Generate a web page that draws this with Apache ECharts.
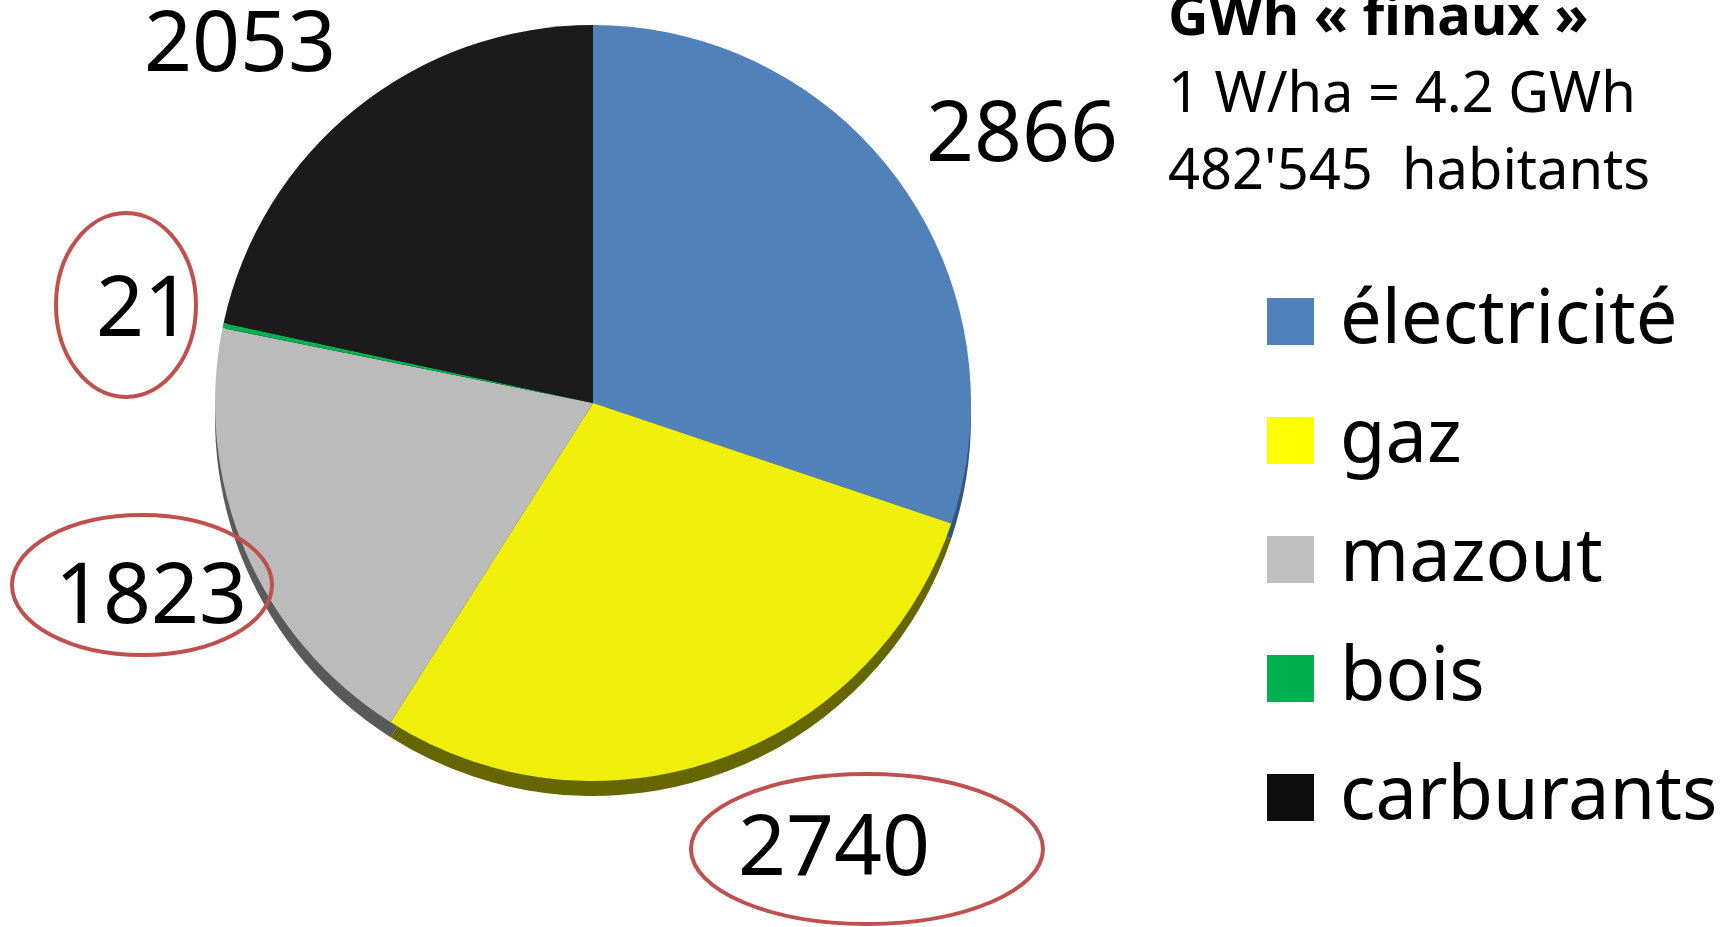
<!DOCTYPE html>
<html>
<head>
<meta charset="utf-8">
<style>
  html, body { margin: 0; padding: 0; background: #fff; }
  #main { width: 1725px; height: 927px; }
</style>
<script src="https://cdn.jsdelivr.net/npm/echarts@6/dist/echarts.min.js"></script>
</head>
<body>
<div id="main"></div>
<script>
  // données
  const categories = ['électricité', 'gaz', 'mazout', 'bois', 'carburants']
  const values = [2866, 2740, 1823, 21, 2053]
  const titleBold = 'GWh « finaux »'
  const titleLines = ['1 W/ha = 4.2 GWh', "482'545  habitants"]

  // styles
  const font = 'Noto Sans'
  const topColors = ['#5081B9', '#EFEF0A', '#BBBBBB', '#00B050', '#1B1B1B']
  const sideColors = ['#34557C', '#666600', '#5A5A5A', '#006A30', '#0A0A0A']
  const legendColors = ['#4F81BD', '#FFFF00', '#BFBFBF', '#00B050', '#0D0D0D']
  // position des étiquettes (centre), même ordre que categories
  const labelPos = [[1022, 137], [834, 851], [151, 599], [144, 312], [240, 47]]
  // cercles rouges autour de certaines valeurs : cx, cy, rx, ry
  const circled = [[126, 305, 70, 92], [142, 585, 130, 70], [867, 849, 176, 75]]

  const pieCenter = [593, 403]
  const pieRadius = 378
  const depth = 15

  const chart = echarts.init(document.getElementById('main'))

  const option = {
    animation: false,
    backgroundColor: '#fff',
    title: {
      left: 1168,
      top: -19,
      padding: 0,
      text:
        '{b|' + titleBold + '}\n' +
        titleLines.map((t) => '{n|' + t + '}').join('\n'),
      textStyle: {
        rich: {
          b: { fontFamily: font, fontSize: 56, fontWeight: 'bold', lineHeight: 77, color: '#000' },
          n: { fontFamily: font, fontSize: 56, fontWeight: 'normal', lineHeight: 77, color: '#000' },
        },
      },
    },
    legend: {
      orient: 'vertical',
      left: 1267,
      top: 284,
      padding: 0,
      itemWidth: 47,
      itemHeight: 47,
      itemGap: 44,
      icon: 'rect',
      selectedMode: false,
      data: categories.map((c, i) => ({ name: c, itemStyle: { color: legendColors[i] } })),
      textStyle: {
        fontFamily: font,
        fontSize: 74,
        lineHeight: 75,
        color: '#000',
        padding: [0, 0, 0, 21],
      },
    },
    graphic: circled.map((e) => ({
      type: 'ellipse',
      shape: { cx: e[0], cy: e[1], rx: e[2], ry: e[3] },
      style: { fill: 'none', stroke: '#C0504D', lineWidth: 4 },
      z: 100,
    })),
    series: [
      {
        // épaisseur (effet 3D)
        name: 'side',
        type: 'pie',
        center: [pieCenter[0], pieCenter[1] + depth],
        radius: pieRadius,
        startAngle: 90,
        silent: true,
        legendHoverLink: false,
        label: { show: false },
        labelLine: { show: false },
        data: categories.map((c, i) => ({
          name: c,
          value: values[i],
          itemStyle: { color: sideColors[i] },
        })),
      },
      {
        name: 'GWh',
        type: 'pie',
        center: pieCenter,
        radius: pieRadius,
        startAngle: 90,
        avoidLabelOverlap: false,
        emphasis: { scale: false },
        label: {
          show: true,
          position: 'outside',
          formatter: '{c}',
          fontFamily: font,
          fontSize: 84,
          color: '#000',
        },
        labelLine: { show: false },
        labelLayout: (params) => {
          const p = labelPos[params.dataIndex]
          return { x: p[0], y: p[1], align: 'center', verticalAlign: 'middle' }
        },
        data: categories.map((c, i) => ({
          name: c,
          value: values[i],
          itemStyle: { color: topColors[i] },
        })),
      },
    ],
  }
  chart.setOption(option)
</script>
</body>
</html>
